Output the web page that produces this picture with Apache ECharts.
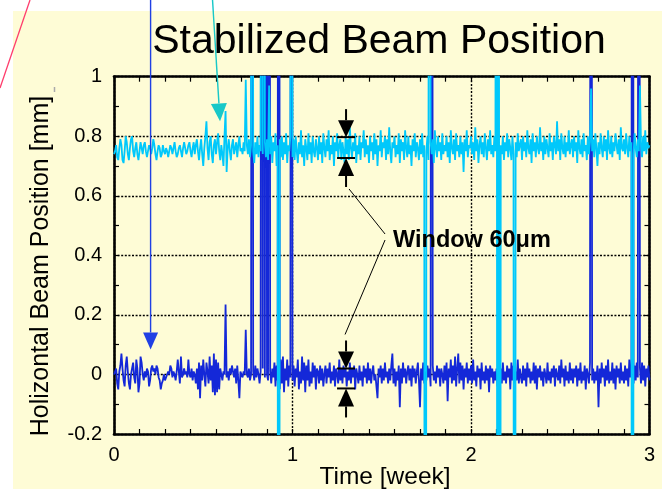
<!DOCTYPE html>
<html><head><meta charset="utf-8">
<script src="https://cdn.jsdelivr.net/npm/echarts@6/dist/echarts.min.js"></script>
<style>html,body{margin:0;padding:0;background:#fff;}#c{width:662px;height:489px;}</style>
</head><body><div id="c"></div>
<script>
const titleText = 'Stabilized Beam Position';
const xName = 'Time [week]';
const yName = 'Holizontal Beam Position [mm]';
const xTicks = [0, 1, 2, 3];
const yTicks = [-0.2, 0, 0.2, 0.4, 0.6, 0.8, 1];
const hoursPerWeek = 168; // one sample per hour
// blue trace (mm), hourly samples, one row per day
const blueSeries = [
0.00,0.01,0.02,-0.03,-0.05,0.01,0.03,0.07,0.02,-0.02,-0.04,0.03,0.06,0.01,-0.03,-0.05,0.00,0.02,0.04,-0.01,-0.03,0.05,0.02,-0.06,
-0.03,0.06,0.04,0.00,-0.02,0.01,-0.01,0.02,0.01,-0.04,-0.02,0.02,0.03,0.01,0.02,0.00,0.03,0.02,-0.01,-0.02,-0.05,-0.03,-0.02,0.00,
-0.02,-0.01,0.00,0.01,0.00,0.03,0.02,-0.01,0.01,0.00,-0.02,0.01,0.05,0.01,-0.03,0.06,-0.01,0.00,0.02,0.00,0.01,-0.01,0.05,0.00,
-0.01,0.02,-0.02,0.01,0.00,-0.03,0.02,-0.05,0.04,-0.08,0.03,-0.02,0.05,0.00,-0.04,0.04,0.01,-0.03,0.06,-0.02,0.03,-0.06,0.07,-0.07,
0.05,-0.06,0.04,-0.05,0.02,0.00,-0.02,0.01,0.00,0.235,-0.01,0.01,-0.02,0.02,0.00,0.03,0.01,-0.01,0.02,-0.03,0.03,-0.02,-0.08,0.01,
0.00,-0.01,0.01,0.00,0.15,0.00,-0.01,0.02,-0.02,0.00,5,0.01,-0.02,0.03,-0.01,0.02,0.00,-0.03,0.01,5,0.02,5,-0.01,5,
0.00,-0.02,5,0.01,-0.03,0.02,-0.01,0.04,-0.04,0.03,-0.02,5,-0.05,0.05,-0.03,0.06,-0.06,0.02,-0.02,0.05,-0.04,0.03,-0.01,5,
-0.02,0.03,-0.04,0.02,-0.01,0.05,-0.05,0.01,-0.03,0.06,-0.02,0.04,-0.06,0.03,-0.02,0.05,-0.04,0.01,-0.03,0.04,-0.01,0.03,-0.05,0.02,
0.01,-0.03,0.03,-0.02,0.02,-0.04,0.00,0.03,-0.03,0.02,-0.01,0.04,-0.03,0.01,-0.02,0.03,-0.04,0.02,0.00,-0.03,0.05,-0.02,0.02,-0.03,
0.03,-0.01,0.02,-0.04,0.01,-0.02,0.04,-0.03,0.02,-0.01,0.03,-0.05,0.02,0.00,-0.03,0.03,-0.02,0.01,-0.04,0.03,-0.01,0.02,-0.03,0.04,
-0.02,0.02,-0.03,0.01,0.03,-0.02,0.00,-0.04,-0.08,0.02,-0.01,0.03,-0.03,0.02,-0.02,0.04,-0.01,0.01,-0.03,0.02,-0.02,0.03,0.07,-0.03,
0.02,-0.04,0.01,-0.02,0.03,-0.11,0.02,-0.03,0.04,-0.01,0.02,-0.03,0.01,0.03,-0.02,0.02,-0.04,0.03,-0.01,0.02,-0.03,0.01,0.04,-0.02,
-0.11,0.02,-0.02,0.04,-0.03,0.01,-0.02,0.03,-0.01,0.02,-0.04,5,0.03,-0.02,0.01,-0.03,0.03,-0.01,0.02,-0.04,0.02,0.00,-0.03,0.03,
-0.02,0.04,-0.09,0.02,-0.01,0.05,-0.03,0.03,-0.02,0.06,-0.04,0.02,0.07,-0.03,0.04,-0.02,0.03,-0.05,0.02,-0.01,0.04,-0.03,0.02,-0.02,
0.03,-0.03,0.05,-0.02,0.01,-0.04,0.03,-0.01,0.02,-0.05,0.04,-0.02,0.01,-0.03,0.03,-0.02,0.02,-0.06,0.03,-0.01,0.02,-0.03,0.01,-0.02,
0.02,-0.04,0.03,-0.01,0.02,-0.03,0.04,-0.02,0.01,-0.03,0.03,-0.01,0.02,-0.05,0.04,-0.02,0.03,-0.03,0.01,-0.02,0.05,-0.03,0.02,-0.01,
-0.03,0.03,-0.02,0.02,-0.04,0.04,-0.01,0.02,-0.03,0.01,-0.02,0.04,-0.03,0.03,-0.05,0.02,-0.01,0.03,-0.02,0.01,-0.04,0.02,0.00,-0.03,
0.04,-0.02,0.01,-0.03,0.02,-0.01,0.03,-0.04,0.02,0.00,-0.02,0.03,-0.03,0.05,-0.01,0.02,-0.04,0.03,-0.02,0.01,-0.03,0.04,-0.02,0.02,
-0.03,0.02,-0.01,0.03,-0.04,0.02,-0.02,0.04,-0.03,0.01,-0.02,0.03,-0.05,0.02,0.00,-0.03,0.04,5,-0.02,0.02,-0.03,0.01,-0.02,0.03,
-0.11,0.02,-0.03,0.04,-0.01,0.02,-0.04,0.03,-0.02,0.05,-0.03,0.01,-0.02,0.04,-0.03,0.02,-0.05,0.03,-0.01,0.02,-0.03,0.04,-0.02,0.01,
-0.03,0.03,-0.02,0.02,-0.04,0.05,-0.01,0.02,5,-0.03,0.03,-0.02,0.04,-0.01,5,0.02,-0.03,0.04,-0.02,0.03,-0.04,0.02,-0.01,0.03,
-0.02];
// cyan trace (mm), hourly samples, one row per day
const cyanSeries = [
0.74,0.75,0.77,0.73,0.72,0.76,0.79,0.77,0.72,0.71,0.75,0.80,0.78,0.74,0.72,0.76,0.79,0.80,0.75,0.73,0.76,0.78,0.74,0.72,
0.75,0.78,0.76,0.74,0.77,0.78,0.75,0.73,0.75,0.77,0.76,0.74,0.76,0.79,0.77,0.74,0.72,0.75,0.77,0.76,0.73,0.74,0.77,0.75,
0.74,0.76,0.75,0.73,0.75,0.77,0.76,0.74,0.76,0.78,0.75,0.73,0.74,0.76,0.77,0.75,0.73,0.76,0.78,0.76,0.74,0.75,0.77,0.78,
0.75,0.73,0.76,0.78,0.74,0.77,0.79,0.75,0.72,0.76,0.79,0.74,0.70,0.76,0.80,0.85,0.76,0.72,0.78,0.80,0.74,0.71,0.77,0.79,
0.74,0.78,0.81,0.75,0.72,0.77,0.74,0.70,0.80,0.885,0.68,0.76,0.79,0.75,0.72,0.77,0.79,0.74,0.76,0.78,0.73,0.77,0.80,0.75,
0.76,0.74,0.78,0.75,0.99,0.77,0.74,0.79,0.73,0.77,5,0.75,0.71,0.78,0.74,0.80,0.73,0.77,0.75,5,0.74,5,0.78,0.73,
0.79,0.72,0.97,0.74,0.80,0.71,0.78,0.75,0.81,0.70,0.77,-5,0.79,0.73,0.80,0.72,0.78,0.74,0.81,0.71,0.77,0.75,0.80,5,
0.73,0.79,0.72,0.80,0.75,0.71,0.78,0.74,0.82,0.73,0.77,0.70,0.79,0.76,0.72,0.81,0.74,0.78,0.71,0.80,0.75,0.73,0.79,0.76,
0.72,0.80,0.74,0.78,0.71,0.81,0.76,0.73,0.79,0.75,0.82,0.72,0.77,0.74,0.80,0.70,0.78,0.75,0.81,0.73,0.77,0.79,0.72,0.78,
0.75,0.71,0.80,0.74,0.79,0.72,0.83,0.76,0.73,0.78,0.75,0.81,0.71,0.77,0.74,0.80,0.72,0.78,0.76,0.82,0.73,0.79,0.74,0.77,
0.71,0.80,0.75,0.78,0.72,0.81,0.74,0.79,0.70,0.77,0.75,0.82,0.73,0.78,0.76,0.80,0.72,0.79,0.74,0.83,0.75,0.71,0.78,0.76,
0.80,0.73,0.77,0.74,0.81,0.71,0.79,0.75,0.78,0.72,0.82,0.76,0.73,0.80,0.74,0.77,0.70,0.79,0.75,0.81,0.73,0.78,0.76,0.72,
0.79,0.74,0.81,0.73,0.77,-5,0.75,0.80,0.72,5,0.78,0.74,0.79,0.71,0.82,0.76,0.73,0.80,0.75,0.78,0.72,0.81,0.74,0.77,
0.75,0.80,0.73,0.78,0.71,0.82,0.76,0.74,0.79,0.72,0.81,0.75,0.77,0.73,0.80,0.74,0.78,0.68,0.79,0.75,0.82,0.73,0.77,0.76,
0.80,0.74,0.78,0.72,0.83,0.75,0.79,0.71,0.77,0.80,0.74,0.78,0.73,0.81,0.76,0.72,0.79,0.75,0.82,0.74,0.77,0.73,0.80,0.75,
5,-5,5,-5,0.77,0.74,0.80,0.72,0.78,0.75,0.81,0.73,0.79,0.76,0.72,0.80,0.74,-5,0.78,0.73,0.81,0.75,0.77,0.79,
0.72,0.80,0.75,0.78,0.73,0.82,0.76,0.74,0.79,0.71,0.81,0.75,0.78,0.73,0.80,0.76,0.74,0.83,0.75,0.78,0.72,0.80,0.74,0.79,
0.76,0.73,0.81,0.75,0.78,0.72,0.80,0.77,0.74,0.85,0.75,0.79,0.72,0.81,0.76,0.74,0.80,0.73,0.78,0.75,0.82,0.74,0.77,0.79,
0.73,0.80,0.75,0.78,0.71,0.82,0.76,0.74,0.79,0.73,0.81,0.75,0.77,0.72,0.80,0.74,0.78,0.96,0.75,0.79,0.73,0.81,0.76,0.70,
0.78,0.74,0.81,0.76,0.73,0.80,0.75,0.79,0.72,0.82,0.76,0.74,0.80,0.73,0.78,0.75,0.81,0.77,0.74,0.79,0.72,0.83,0.76,0.75,
0.79,0.74,0.81,0.76,0.73,0.80,0.75,0.78,-5,0.74,0.81,0.76,0.73,0.79,0.75,0.97,0.77,0.73,0.80,0.75,0.82,0.74,0.78,0.76,
0.77];
const windowLabel = 'Window 60μm';
const windowTime = 1.3;
const windowBands = [[0.727, 0.797], [-0.047, 0.020]];
const pointerBlue = [0.205, 0.084];
const pointerCyan = [0.594, 0.85];

const FONT = '"Liberation Sans", Arial, Helvetica, sans-serif';
const BLUE = '#1428d8';
const CYAN = '#00c8fb';
const chart = echarts.init(document.getElementById('c'), null, {renderer: 'canvas'});

const toPairs = arr => arr.map((v, i) => [i / hoursPerWeek, v]);
const tickCommon = {inside: true, length: 5, lineStyle: {color: '#000', width: 1.2}};
const lineCommon = {show: true, onZero: false, lineStyle: {color: '#000', width: 2.6}};
const splitCommon = {show: true, lineStyle: {color: '#000', width: 1.4, type: [2, 1.6]}};

const option = {
  animation: false,
  backgroundColor: 'transparent',
  grid: {left: 114, right: 12.5, top: 76.7, bottom: 55, containLabel: false},
  xAxis: [
    {type: 'value', min: xTicks[0], max: xTicks[xTicks.length - 1], interval: 1, position: 'bottom',
     axisLine: lineCommon, axisTick: tickCommon,
     minorTick: {show: true, splitNumber: 7, length: 5, lineStyle: {color: '#000', width: 1.2}},
     splitLine: splitCommon,
     axisLabel: {color: '#000', fontSize: 20, fontFamily: FONT, margin: 11}},
    {type: 'value', min: xTicks[0], max: xTicks[xTicks.length - 1], interval: 1, position: 'top',
     axisLine: lineCommon, axisTick: tickCommon,
     minorTick: {show: true, splitNumber: 7, length: 5, lineStyle: {color: '#000', width: 1.2}},
     splitLine: {show: false}, axisLabel: {show: false}}
  ],
  yAxis: [
    {type: 'value', min: yTicks[0], max: yTicks[yTicks.length - 1], interval: 0.2, position: 'left',
     axisLine: lineCommon, axisTick: tickCommon,
     minorTick: {show: true, splitNumber: 2, length: 5, lineStyle: {color: '#000', width: 1.2}},
     splitLine: splitCommon,
     axisLabel: {color: '#000', fontSize: 20, fontFamily: FONT, margin: 12}},
    {type: 'value', min: yTicks[0], max: yTicks[yTicks.length - 1], interval: 0.2, position: 'right',
     axisLine: lineCommon, axisTick: tickCommon,
     minorTick: {show: true, splitNumber: 2, length: 5, lineStyle: {color: '#000', width: 1.2}},
     splitLine: {show: false}, axisLabel: {show: false}}
  ],
  series: [
    {type: 'line', xAxisIndex: 0, yAxisIndex: 0, data: toPairs(blueSeries), showSymbol: false, symbol: 'none',
     clip: true, z: 3, lineStyle: {color: BLUE, width: 1.8}},
    {type: 'line', xAxisIndex: 0, yAxisIndex: 0, data: toPairs(cyanSeries), showSymbol: false, symbol: 'none',
     clip: true, z: 4, lineStyle: {color: CYAN, width: 1.8}}
  ]
};
chart.setOption(option);

const px = p => chart.convertToPixel({gridIndex: 0}, p);
const g = [];
// page background
g.push({type: 'rect', z: -100, silent: true, shape: {x: 13, y: 11, width: 649, height: 478}, style: {fill: '#fefcd6'}});
// title and axis names
g.push({type: 'text', z: 50, x: 379, y: 42, style: {text: titleText, fontSize: 41, fontFamily: FONT, fill: '#000', align: 'center', verticalAlign: 'middle'}});
g.push({type: 'text', z: 50, x: 385, y: 477, style: {text: xName, fontSize: 24.5, fontFamily: FONT, fill: '#000', align: 'center', verticalAlign: 'middle'}});
g.push({type: 'text', z: 50, x: 41, y: 266, rotation: Math.PI / 2, style: {text: yName, fontSize: 25, fontFamily: FONT, fill: '#000', align: 'center', verticalAlign: 'middle'}});

function arrow(x1, y1, x2, y2, color, headLen, headHalf, lw) {
  const dx = x2 - x1, dy = y2 - y1, L = Math.hypot(dx, dy);
  const ux = dx / L, uy = dy / L;
  const bx = x2 - ux * headLen, by = y2 - uy * headLen;
  g.push({type: 'line', z: 60, shape: {x1: x1, y1: y1, x2: bx, y2: by}, style: {stroke: color, lineWidth: lw}});
  g.push({type: 'polygon', z: 60, shape: {points: [[x2, y2], [bx - uy * headHalf, by + ux * headHalf], [bx + uy * headHalf, by - ux * headHalf]]}, style: {fill: color}});
}
// pointer arrows
const tb = px(pointerBlue);
arrow(tb[0], 0, tb[0], tb[1], '#2040e4', 17, 7.5, 1.4);
const tc = px(pointerCyan);
arrow(tc[0] - 7.5, 0, tc[0], tc[1], '#18c8c8', 18, 8, 1.4);
// stray marks
g.push({type: 'line', z: 60, shape: {x1: 0, y1: 88, x2: 30, y2: 0}, style: {stroke: '#ff3d6c', lineWidth: 1.3}});
g.push({type: 'line', z: 60, shape: {x1: 54.5, y1: 87, x2: 54.5, y2: 92}, style: {stroke: '#aaa', lineWidth: 1.5}});

// window markers
const ends = [];
windowBands.forEach(b => {
  const top = px([windowTime, b[1]]);
  const bot = px([windowTime, b[0]]);
  const cx = top[0];
  g.push({type: 'line', z: 60, shape: {x1: cx - 9, y1: top[1], x2: cx + 9, y2: top[1]}, style: {stroke: '#000', lineWidth: 2}});
  g.push({type: 'line', z: 60, shape: {x1: cx - 9, y1: bot[1], x2: cx + 9, y2: bot[1]}, style: {stroke: '#000', lineWidth: 2}});
  arrow(cx, top[1] - 28, cx, top[1], '#000', 17, 8, 2);
  arrow(cx, bot[1] + 29, cx, bot[1], '#000', 18, 8, 2);
  ends.push({cx: cx, top: top[1], bot: bot[1]});
});
const tx = ends[0].cx + 47, ty = 241;
g.push({type: 'line', z: 60, shape: {x1: ends[0].cx + 3, y1: ends[0].bot + 31, x2: tx - 8, y2: ty - 7}, style: {stroke: '#000', lineWidth: 1}});
g.push({type: 'line', z: 60, shape: {x1: tx - 8, y1: ty - 1, x2: ends[1].cx - 1, y2: ends[1].top - 34}, style: {stroke: '#000', lineWidth: 1}});
g.push({type: 'text', z: 60, x: tx, y: ty, style: {text: windowLabel, fontSize: 23.5, fontWeight: 'bold', fontFamily: FONT, fill: '#000', align: 'left', verticalAlign: 'middle'}});

chart.setOption({graphic: {elements: g}});
</script>
</body></html>
